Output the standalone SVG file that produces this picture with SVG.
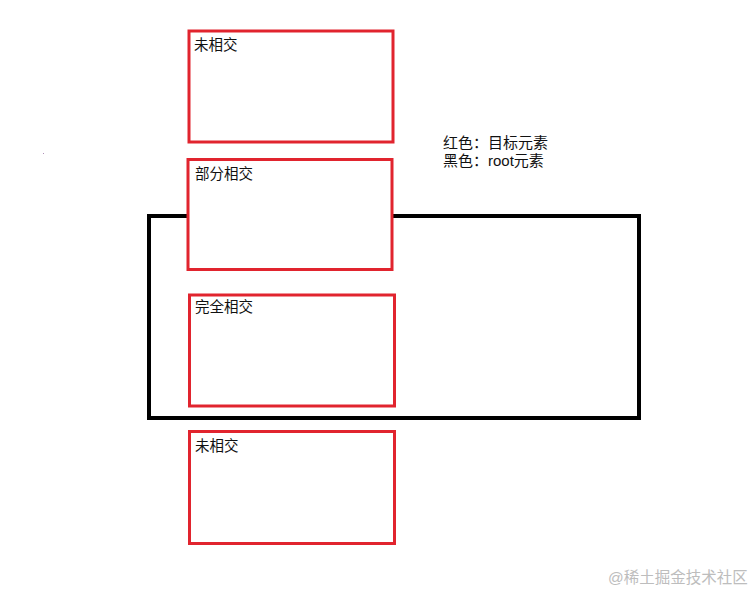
<svg xmlns="http://www.w3.org/2000/svg" width="755" height="591" viewBox="0 0 755 591">
<style>
.red{fill:none;stroke:#e1242e;stroke-width:3}
.root{fill:none;stroke:#000;stroke-width:4}
.lbl{font-family:"Liberation Sans","Noto Sans CJK SC",sans-serif;font-size:14.5px;fill:#111}
.leg{font-family:"Liberation Sans","Noto Sans CJK SC",sans-serif;font-size:15px;fill:#111}
.wm{font-family:"Liberation Sans","Noto Sans CJK SC",sans-serif;font-size:15.5px;fill:#bdbdbd}
</style>
<rect width="755" height="591" fill="#fff"/>
<g id="root">
<rect class="root" x="149" y="216" width="490" height="202"/>
</g>
<g id="box-none-top">
<rect class="red" x="189" y="31" width="204" height="111" style="fill:#fff"/>
<text class="lbl" x="194" y="50">未相交</text>
</g>
<g id="box-partial">
<rect class="red" x="188" y="159.5" width="204" height="110" style="fill:#fff"/>
<text class="lbl" x="195" y="179">部分相交</text>
</g>
<g id="box-full">
<rect class="red" x="189.5" y="295" width="205" height="111"/>
<text class="lbl" x="195" y="312">完全相交</text>
</g>
<g id="box-none-bottom">
<rect class="red" x="189.5" y="431.5" width="205" height="112"/>
<text class="lbl" x="195" y="451">未相交</text>
</g>
<g id="legend">
<text class="leg" x="443" y="148">红色：目标元素</text>
<text class="leg" x="443" y="166">黑色：root元素</text>
</g>
<g id="connectors"/>
<rect x="43" y="153" width="1" height="1" fill="#b090b8"/>
<text class="wm" x="608" y="583">@稀土掘金技术社区</text>
</svg>
